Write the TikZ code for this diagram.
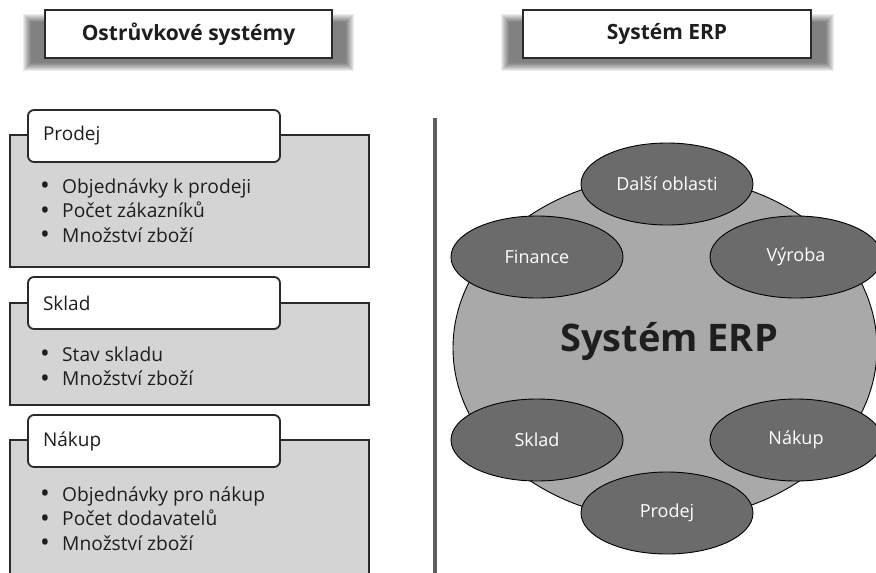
\documentclass[tikz,border=0pt]{standalone}
\usepackage{fontspec}
\setmainfont{Open Sans}
\usetikzlibrary{shapes.geometric}
\definecolor{boxgray}{HTML}{D4D4D4}
\definecolor{ellgray}{HTML}{6B6B6B}
\definecolor{bigfill}{HTML}{A9A9A9}
\definecolor{linegray}{HTML}{5E5E5E}
\definecolor{txt}{HTML}{1E1E1E}
\definecolor{bord}{HTML}{2A2A2A}
\newcommand{\bul}{\makebox[22pt][l]{\raisebox{-1.5pt}{\fontsize{26}{20}\selectfont\textbullet}}}
\begin{document}
\begin{tikzpicture}[x=1pt,y=-1pt,
  hdr/.style={draw=bord, line width=1.2pt, fill=white, minimum height=48pt, inner sep=0pt,
    font=\fontsize{21}{26}\selectfont\bfseries, text=txt},
  graybox/.style={draw=bord, line width=1.2pt, fill=boxgray, inner sep=0pt},
  tabbox/.style={draw=bord, line width=1.8pt, fill=white, rounded corners=6pt,
    minimum width=252pt, minimum height=52pt, text width=222pt, inner xsep=15pt, align=left,
    font=\fontsize{19}{23}\selectfont, text=txt},
  item/.style={anchor=base west, inner sep=0pt, font=\fontsize{19.2}{23}\selectfont, text=txt},
  ell/.style={ellipse, draw=black, line width=0.9pt, fill=ellgray, inner sep=0pt,
    minimum width=172pt, minimum height=82pt, text=white, font=\fontsize{18}{22}\selectfont},
  shade/.style={black, opacity=0.07}
]
\useasboundingbox (0,0) rectangle (876,573);
\fill[white] (0,0) rectangle (876,573);

% header shadows
\foreach \i in {0,...,8} {
  \fill[shade] (31-\i,22-\i) rectangle (346+\i,63+\i);
  \fill[shade] (509-\i,22-\i) rectangle (826+\i,63+\i);
}
\node[hdr, minimum width=287pt] (h1) at (188.5,34) {Ostrůvkové systémy};
\node[hdr, minimum width=288pt] (h2) at (667,34) {Systém ERP};

% left boxes
\node[graybox, minimum width=359pt, minimum height=132pt] (b1) at (189.5,201) {};
\node[tabbox] (t1) at (154,136) {Prodej};
\node[item] (p1) at (40,193) {\bul Objednávky k prodeji};
\node[item] (p2) at (40,217.5) {\bul Počet zákazníků};
\node[item] (p3) at (40,242) {\bul Množství zboží};

\node[graybox, minimum width=359pt, minimum height=102pt] (b2) at (189.5,354) {};
\node[tabbox] (t2) at (154,303) {Sklad};
\node[item] (s1) at (40,361) {\bul Stav skladu};
\node[item] (s2) at (40,385.5) {\bul Množství zboží};

\node[graybox, minimum width=359pt, minimum height=136pt] (b3) at (189.5,508) {};
\node[tabbox] (t3) at (154,441) {Nákup};
\node[item] (n1) at (40,501) {\bul Objednávky pro nákup};
\node[item] (n2) at (40,525.5) {\bul Počet dodavatelů};
\node[item] (n3) at (40,550) {\bul Množství zboží};

% divider
\coordinate (dtop) at (435,118);
\coordinate (dbot) at (435,574);
\draw[linegray, line width=4pt] (dtop) -- (dbot);

% ERP
\node[ellipse, draw=black, line width=0.9pt, fill=bigfill, minimum width=424pt, minimum height=344pt, inner sep=0pt] (erp) at (665,348) {};
\node[font=\fontsize{38}{44}\selectfont\bfseries, text=txt, inner sep=0pt] (erpt) at (669,342) {Systém ERP};

\node[ell] (e1) at (667,184) {Další oblasti};
\node[ell] (e2) at (537,257) {Finance};
\node[ell] (e3) at (796,257) {Výroba};
\node[ell] (e4) at (537,440) {Sklad};
\node[ell] (e5) at (796,440) {Nákup};
\node[ell] (e6) at (667,513) {Prodej};
\end{tikzpicture}
\end{document}
